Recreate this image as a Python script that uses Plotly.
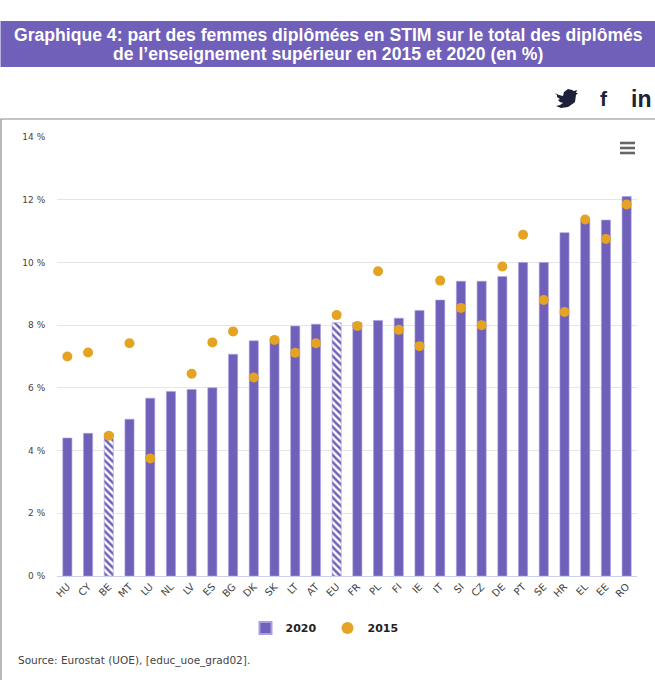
import plotly.graph_objects as go

categories = ["HU","CY","BE","MT","LU","NL","LV","ES","BG","DK","SK","LT","AT","EU",
              "FR","PL","FI","IE","IT","SI","CZ","DE","PT","SE","HR","EL","EE","RO"]
values_2020 = [4.4,4.55,4.55,5.0,5.67,5.88,5.95,6.0,7.07,7.5,7.55,7.97,8.03,8.08,
               8.08,8.15,8.22,8.47,8.8,9.4,9.4,9.55,10.0,10.0,10.95,11.35,11.35,12.1]
values_2015 = [7.0,7.13,4.47,7.42,3.75,None,6.45,7.45,7.8,6.33,7.53,7.12,7.42,8.32,
               7.97,9.72,7.85,7.33,9.42,8.55,8.0,9.87,10.88,8.8,8.42,11.37,10.75,11.85]
hatched = ["BE","EU"]
y_ticks = [0,2,4,6,8,10,12,14]
y_labels = ["0 %","2 %","4 %","6 %","8 %","10 %","12 %","14 %"]

W, H = 655, 680
L, R, T, B = 57, 637, 137, 576
PURPLE = "#7060b9"
GOLD = "#e5a323"
FONT = "DejaVu Sans"

def px(x): return (x - L) / (R - L)
def py(y): return (B - y) / (B - T)

fig = go.Figure()
fig.add_bar(
    x=categories, y=values_2020, name="2020", width=0.44,
    marker=dict(
        color=PURPLE,
        line=dict(color="#a99fe0", width=0.6),
        pattern=dict(
            shape=["\\" if c in hatched else "" for c in categories],
            fgcolor=[PURPLE] * len(categories), bgcolor=["white"] * len(categories),
            fillmode="replace", size=5, solidity=0.5,
        ),
    ),
)
fig.add_scatter(
    x=categories, y=values_2015, name="2015", mode="markers",
    marker=dict(color=GOLD, size=10, line=dict(width=0)),
)

def pline(x0, y0, x1, y1, color, width):
    return dict(type="line", xref="paper", yref="paper",
                x0=px(x0), y0=py(y0), x1=px(x1), y1=py(y1),
                line=dict(color=color, width=width), layer="above")

bird_pts = [(555,93),(559,95),(563,96),(564,92),(568,89),(572,90),(574,91),(577,90),(576,93),(578,93),
            (576,95),(575,102),(571,105),(568,107),(561,108),(556,106),(560,105),(563,103),(560,102),
            (558,100),(560,99),(557,97),(557,95)]
bird = "M " + " L ".join(f"{px(x):.5f},{py(y):.5f}" for x, y in bird_pts) + " Z"

shapes = [
    dict(type="rect", xref="paper", yref="paper", x0=px(0.5), x1=px(656), y0=py(67), y1=py(21),
         fillcolor=PURPLE, line=dict(width=0), layer="below"),
    dict(type="rect", xref="paper", yref="paper", x0=px(1), x1=px(660), y0=py(690), y1=py(119),
         fillcolor="rgba(0,0,0,0)", line=dict(color="#8a8a8a", width=1.2), layer="below"),
    pline(620, 143, 635, 143, "#666666", 2.6),
    pline(620, 148, 635, 148, "#666666", 2.6),
    pline(620, 153, 635, 153, "#666666", 2.6),
    dict(type="path", xref="paper", yref="paper", path=bird,
         fillcolor="#1d2238", line=dict(width=0), layer="above"),
]

def note(text, x, y, size, color, family=FONT, anchor="center"):
    return dict(text=text, xref="paper", yref="paper", x=px(x), y=py(y), xanchor=anchor,
                yanchor="middle", showarrow=False, font=dict(family=family, size=size, color=color))

annotations = [
    note("<b>Graphique 4: part des femmes diplômées en STIM sur le total des diplômés</b>",
         328, 35, 17.6, "white", "Liberation Sans"),
    note("<b>de l’enseignement supérieur en 2015 et 2020 (en %)</b>",
         328, 54, 17.6, "white", "Liberation Sans"),
    note("<b>f</b>", 604, 98, 21, "#1d2238", "Liberation Sans"),
    note("<b>in</b>", 641, 99, 23, "#1d2238", "Liberation Sans"),
    note("Source: Eurostat (UOE), [educ_uoe_grad02].", 16, 660, 10.5, "#444444", FONT, "left"),
]

fig.update_layout(
    width=W, height=H, autosize=False,
    margin=dict(l=L, r=W - R, t=T, b=H - B),
    paper_bgcolor="white", plot_bgcolor="white",
    font=dict(family=FONT, size=10, color="#444444"),
    showlegend=True,
    legend=dict(orientation="h", x=0.5, xanchor="center", xref="container",
                y=1 - 628 / H, yanchor="middle", yref="container",
                font=dict(family=FONT, size=11, color="#222222", weight="bold"),
                itemsizing="constant", traceorder="normal", entrywidth=37, entrywidthmode="pixels"),
    shapes=shapes, annotations=annotations,
    xaxis=dict(type="category", categoryorder="array", categoryarray=categories,
               range=[-0.5, 27.5], autorange=False,
               tickangle=-45, tickfont=dict(size=10, color="#444444"),
               showgrid=False, ticks="", showline=True, linecolor="#ccd0ee", linewidth=1,
               automargin=False),
    yaxis=dict(range=[0, 14], autorange=False, tickvals=y_ticks, ticktext=y_labels,
               tickfont=dict(size=9, color="#444444"),
               showgrid=True, gridcolor="#e6e6e6", gridwidth=1, zeroline=False,
               ticks="outside", ticklen=9, tickcolor="rgba(0,0,0,0)", automargin=False),
)
fig.write_html("out.html", post_script="document.body.style.margin='0';",
               config=dict(displayModeBar=False))
